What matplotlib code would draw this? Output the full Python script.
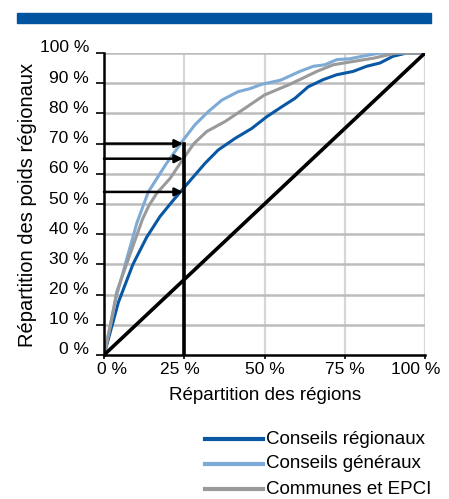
import matplotlib
matplotlib.use("Agg")
import matplotlib.pyplot as plt
from matplotlib.patches import Rectangle
from matplotlib.lines import Line2D
from matplotlib.transforms import ScaledTranslation

plt.rcParams['font.family'] = ['Liberation Sans', 'DejaVu Sans']

# --- data (percentages) ---
reg_x = [0, 4.5, 9, 13.3, 17.4, 21, 25, 31.5, 35.6, 40.8, 46, 50.7, 55.4, 59.5,
         63.6, 68.3, 72.5, 77.6, 81.8, 86, 90, 94.3, 100]
reg_y = [0, 17.5, 30, 39, 45.8, 50.5, 55.5, 63.5, 67.9, 71.7, 75, 78.9, 82.2, 85,
         88.8, 91.2, 92.8, 93.9, 95.6, 96.7, 98.9, 100, 100]

gen_x = [0, 1.9, 4, 7, 9, 10.2, 13.8, 19.5, 24.7, 28.3, 32.5, 36.7, 41.8, 45.5,
         49, 55, 61, 65.2, 68.8, 72.5, 76.6, 81.8, 86, 100]
gen_y = [0, 9.4, 20, 31.5, 39, 43.6, 54, 63.5, 71.2, 76.2, 80.6, 84.4, 87.2, 88.2,
         89.6, 91, 93.9, 95.6, 96.1, 97.8, 98.1, 99.2, 100, 100]

com_x = [0, 1.9, 4, 7, 9, 12, 14, 16.4, 20.6, 24.7, 28, 32, 37.7, 43.9, 50, 57.4,
         61, 66.3, 71.4, 77.6, 84, 91, 100]
com_y = [0, 9.4, 21, 30, 36, 45, 49.5, 53.5, 58.5, 65, 70, 74, 77.3, 81.7, 86.1,
         89.4, 91.2, 93.9, 96.1, 97.2, 98.3, 100, 100]

eq_x = [0, 100]
eq_y = [0, 100]

arrow_levels = [70, 65, 54]
ref_x = 25

series_names = ["Conseils régionaux", "Conseils généraux", "Communes et EPCI"]
colors = ["#0a58a4", "#7eaad6", "#9a9a9a"]

x_ticks = [0, 25, 50, 75, 100]
x_labels = ["0 %", "25 %", "50 %", "75 %", "100 %"]
y_ticks = list(range(0, 101, 10))
y_labels = [f"{v} %" for v in y_ticks]

W, H = 449, 499
fig = plt.figure(figsize=(W / 100, H / 100), dpi=100)

def px(dx, dy):
    return ScaledTranslation(dx / 100, -dy / 100, fig.dpi_scale_trans)

# top blue band
fig.patches.append(Rectangle((17 / W, 1 - 23 / H), (431 - 17) / W, 10 / H,
                             transform=fig.transFigure, color="#0054a0", zorder=0))

ax = fig.add_axes([104 / W, 1 - 355 / H, (425 - 104) / W, (355 - 53) / H])
ax.set_xlim(0, 100)
ax.set_ylim(0, 100)

# grid
for v in x_ticks[1:]:
    ax.axvline(v, color="#d6d6d6", lw=1.6, zorder=1)
for v in y_ticks[1:]:
    ax.axhline(v, color="#bcbcbc", lw=1.8, zorder=1)

ax.plot(reg_x, reg_y, color=colors[0], lw=2.2, zorder=3)
ax.plot(gen_x, gen_y, color=colors[1], lw=2.2, zorder=3)
ax.plot(com_x, com_y, color=colors[2], lw=2.2, zorder=3)
ax.plot(eq_x, eq_y, color="black", lw=2.6, zorder=4)

# reference vertical line and arrows
ax.plot([ref_x, ref_x], [0, arrow_levels[0]], color="black", lw=2.6, zorder=5)
for lv in arrow_levels:
    ax.annotate("", xy=(ref_x - 0.4, lv), xytext=(0, lv),
                arrowprops=dict(arrowstyle="-|>", color="black", lw=1.8,
                                mutation_scale=12, shrinkA=0, shrinkB=0),
                zorder=5)

for s in ["top", "right"]:
    ax.spines[s].set_visible(False)
for s in ["left", "bottom"]:
    ax.spines[s].set_linewidth(1.8)
    ax.spines[s].set_zorder(6)

ax.set_xticks(x_ticks)
ax.set_yticks(y_ticks)
ax.set_xticklabels([])
ax.set_yticklabels([])
ax.tick_params(axis="y", direction="out", length=6, width=1.2)
ax.tick_params(axis="x", direction="out", length=3, width=1.2)

# tick labels (placed as text to mimic reference offsets)
ytr = ax.get_yaxis_transform()
for v, lab in zip(y_ticks, y_labels):
    ax.text(0, v, lab, transform=ytr + px(-15, -5), ha="right", va="center",
            fontsize=12.5, clip_on=False)
xtr = ax.get_xaxis_transform()
x_shift = [8, -4, 0, 0, -9]
for v, lab, sh in zip(x_ticks, x_labels, x_shift):
    ax.text(v, 0, lab, transform=xtr + px(sh, 14), ha="center", va="center",
            fontsize=12.5, clip_on=False)

fig.text(265 / W, 1 - 396 / H, "Répartition des régions", ha="center",
         va="center", fontsize=13.5)
fig.text(28 / W, 1 - 205 / H, "Répartition des poids régionaux", ha="center",
         va="center", rotation=90, fontsize=14.5)

# legend (manual)
for i, (name, c) in enumerate(zip(series_names, colors)):
    yy = 1 - (439 + 25 * i) / H
    fig.add_artist(Line2D([205 / W, 263 / W], [yy, yy], color=c, lw=3,
                          transform=fig.transFigure))
    fig.text(266 / W, yy, name, ha="left", va="center", fontsize=13.5)

fig.savefig("out.png", dpi=100)
